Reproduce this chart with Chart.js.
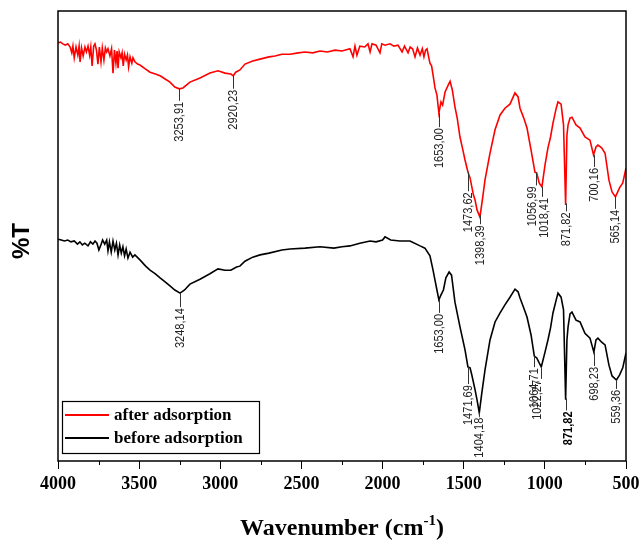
<!DOCTYPE html>
<html>
<head>
<meta charset="utf-8">
<script src="https://cdn.jsdelivr.net/npm/chart.js@4.4.0/dist/chart.umd.min.js"></script>
<style>
  html, body { margin: 0; padding: 0; background: #fff; }
  #wrap { width: 639px; height: 542px; }
</style>
</head>
<body>
<div id="wrap"><canvas id="ftir"></canvas></div>
<script>
// spectre apres adsorption (rouge)
const redWave = [4000,3985,3970,3955,3940,3925,3915,3908,3900,3889,3878,3870,3864,3855,3845,3834,3825,3815,3805,3798,3790,3780,3772,3763,3754,3745,3735,3727,3717,3708,3700,3692,3680,3670,3661,3652,3643,3636,3630,3623,3612,3605,3598,3590,3580,3572,3565,3556,3545,3538,3526,3510,3495,3460,3433,3400,3371,3340,3310,3280,3253,3230,3187,3125,3064,3014,2971,2935,2920,2905,2879,2848,2800,2755,2700,2663,2620,2570,2520,2478,2430,2386,2340,2293,2250,2201,2182,2170,2158,2140,2110,2090,2077,2065,2040,2016,2005,1985,1954,1930,1905,1880,1865,1843,1830,1815,1800,1785,1769,1755,1745,1735,1726,1715,1708,1698,1689,1677,1665,1653,1640,1630,1615,1595,1584,1570,1554,1540,1523,1505,1492,1480,1474,1461,1440,1430,1418,1400,1381,1369,1338,1307,1276,1246,1215,1184,1165,1153,1130,1110,1085,1061,1050,1035,1018,999,981,965,950,930,919,900,885,872,864,857,845,833,808,783,753,722,700,685,673,650,629,605,586,565,540,520,500];
const redT = [92.9,93.1,92.7,92.4,92.7,92.0,90.7,92.2,89.6,92.0,90.2,92.2,88.7,91.8,90.0,92.0,90.9,92.2,90.2,92.0,87.8,92.2,92.7,91.3,88.2,92.0,88.7,91.8,89.1,91.8,90.9,91.6,90.0,91.6,86.2,91.3,88.4,91.1,87.3,90.9,89.6,90.7,87.8,90.4,89.1,90.2,87.6,89.8,88.4,89.6,88.7,88.2,88.0,87.1,86.4,86.0,85.6,84.9,84.2,83.1,82.7,82.9,84.2,85.1,86.2,86.7,86.2,86.0,85.6,86.4,86.9,88.2,88.9,89.3,89.8,90.0,90.4,90.4,90.7,90.9,90.7,91.1,90.9,91.3,91.1,91.6,89.8,92.2,90.2,92.2,92.0,92.7,90.9,92.7,92.4,90.7,92.7,92.4,92.7,92.2,92.4,90.9,92.2,90.7,92.0,91.6,89.8,91.8,90.2,91.6,89.8,91.3,91.6,89.6,88.4,87.8,85.8,82.9,81.3,77.3,79.8,79.1,82.0,83.6,84.4,82.4,78.7,76.2,72.0,69.1,66.9,65.1,64.2,62.9,59.1,58.0,55.8,54.2,59.1,62.4,68.4,73.6,76.9,78.4,79.3,81.8,80.9,78.4,76.2,74.0,69.1,64.2,64.0,61.8,60.9,65.8,69.6,72.0,75.1,78.4,79.8,79.3,74.7,56.9,72.4,74.7,76.2,76.4,74.7,74.0,72.0,71.3,68.0,69.8,70.2,69.6,68.4,62.4,59.8,58.7,60.7,61.8,65.1];

// spectre avant adsorption (noir)
const blackWave = [4000,3980,3960,3940,3920,3900,3880,3865,3850,3835,3815,3800,3785,3772,3760,3748,3738,3725,3712,3700,3692,3683,3672,3661,3650,3640,3630,3620,3610,3600,3590,3580,3569,3556,3540,3526,3495,3460,3433,3400,3371,3340,3310,3280,3248,3220,3187,3125,3064,3014,2971,2935,2900,2879,2848,2800,2755,2700,2620,2570,2478,2386,2300,2250,2201,2140,2077,2040,2000,1985,1950,1893,1831,1769,1739,1708,1689,1677,1665,1653,1640,1625,1610,1590,1575,1554,1523,1492,1474,1461,1450,1430,1418,1404,1390,1369,1338,1307,1276,1246,1215,1184,1165,1153,1130,1110,1085,1065,1050,1035,1022,999,981,965,950,930,919,900,885,872,864,857,845,833,808,783,753,722,698,685,673,650,629,605,586,559,540,520,500];
const blackT = [49.3,49.1,48.9,49.1,48.7,48.9,48.2,48.7,48.0,48.4,47.8,48.7,48.2,48.9,48.4,46.9,47.8,49.1,48.2,49.1,46.7,48.7,46.4,48.9,46.9,48.4,45.8,48.0,46.2,47.6,45.6,47.1,45.1,46.4,45.3,45.8,44.7,43.3,42.4,41.6,40.7,39.8,38.9,38.0,37.3,38.0,39.3,40.4,41.6,42.7,42.4,42.4,43.1,43.3,44.4,45.3,45.8,46.2,46.9,47.1,47.3,47.6,47.3,47.6,47.8,48.4,48.9,48.7,49.1,49.8,49.1,48.9,48.9,47.8,47.3,45.6,42.4,40.2,38.0,35.8,36.9,38.0,40.7,42.0,41.3,35.3,29.8,24.7,20.9,20.7,19.1,15.8,13.6,10.7,14.7,20.2,26.9,30.9,32.9,34.7,36.4,38.2,37.6,36.2,34.0,32.0,28.0,23.3,22.9,21.8,20.9,24.2,26.9,29.6,32.9,35.8,37.3,36.4,33.6,13.6,26.9,29.8,32.7,33.1,31.3,30.9,28.4,27.3,24.2,26.9,27.3,26.4,25.8,21.3,18.9,18.0,19.1,20.7,24.0];

// pics annotes
const redPeaks = ['3253,91','2920,23','1653,00','1473,62','1398,39','1056,99','1018,41','871,82','700,16','565,14'];
const blackPeaks = ['3248,14','1653,00','1471,69','1404,18','1064,71','1022,27','871,82','698,23','559,36'];
const boldPeaks = ['871,82'];

const xTicks = [4000, 3500, 3000, 2500, 2000, 1500, 1000, 500];
const seriesNames = ['after adsorption', 'before adsorption'];

// longueur des traits de repere (px) et petit decalage du texte
const redLeader = [12,13,14,19,9,13,10,8,12,12];
const blackLeader = [14,13,17,4,11,12,12,14,9];
const redShift = [0,0,0,0,0,-4,2,0,0,0];
const blackShift = [0,0,0,0,0,-4,2,0,0];

const SERIF = "'Liberation Serif', 'Times New Roman', serif";
const SANS = "'Liberation Sans', Arial, sans-serif";

function toPoints(w, t) {
  return w.map((x, i) => ({ x, y: t[i] }));
}

function interp(w, t, x) {
  for (let i = 0; i < w.length - 1; i++) {
    if (w[i] >= x && x >= w[i + 1]) {
      const f = (w[i] - x) / (w[i] - w[i + 1]);
      return t[i] + f * (t[i + 1] - t[i]);
    }
  }
  return t[t.length - 1];
}

function drawPeaks(ctx, chart, w, t, peaks, leaders, shifts, black) {
  const xs = chart.scales.x, ys = chart.scales.y;
  peaks.forEach((p, i) => {
    const wn = parseFloat(p.replace(',', '.'));
    const px = Math.round(xs.getPixelForValue(wn)) + 0.5;
    const py = ys.getPixelForValue(interp(w, t, wn));
    const y2 = py + leaders[i];
    ctx.strokeStyle = '#333';
    ctx.lineWidth = 1;
    ctx.beginPath();
    ctx.moveTo(px, py);
    ctx.lineTo(px, y2);
    ctx.stroke();
    ctx.save();
    ctx.translate(px + shifts[i], y2 + 1);
    ctx.rotate(-Math.PI / 2);
    ctx.scale(0.85, 1);
    const bold = black && boldPeaks.includes(p);
    ctx.font = (bold ? 'bold ' : '') + '13px ' + SANS;
    ctx.fillStyle = bold ? '#000' : '#222';
    ctx.textAlign = 'right';
    ctx.textBaseline = 'middle';
    ctx.fillText(p, 0, 0);
    ctx.restore();
  });
}

const decor = {
  id: 'decor',
  afterDraw(chart) {
    const ctx = chart.ctx;
    const a = chart.chartArea;
    const xs = chart.scales.x;
    ctx.save();

    // cadre
    ctx.strokeStyle = '#000';
    ctx.lineWidth = 1.5;
    ctx.strokeRect(a.left, a.top, a.right - a.left, a.bottom - a.top);

    // graduations mineures
    ctx.lineWidth = 1;
    for (let v = 3750; v > 500; v -= 500) {
      const x = Math.round(xs.getPixelForValue(v)) + 0.5;
      ctx.beginPath();
      ctx.moveTo(x, a.bottom);
      ctx.lineTo(x, a.bottom + 4);
      ctx.stroke();
    }

    // annotations
    drawPeaks(ctx, chart, redWave, redT, redPeaks, redLeader, redShift, false);
    drawPeaks(ctx, chart, blackWave, blackT, blackPeaks, blackLeader, blackShift, true);

    // legende
    const lx = a.left + 4, ly = a.bottom - 60;
    ctx.strokeStyle = '#000';
    ctx.lineWidth = 1.2;
    ctx.strokeRect(lx + 0.5, ly + 0.5, 197, 52);
    const cols = ['#ff0000', '#000000'];
    ctx.font = 'bold 17px ' + SERIF;
    ctx.textBaseline = 'middle';
    ctx.textAlign = 'left';
    seriesNames.forEach((n, i) => {
      const yy = ly + 14 + i * 23;
      ctx.strokeStyle = cols[i];
      ctx.lineWidth = 2;
      ctx.beginPath();
      ctx.moveTo(lx + 3, yy);
      ctx.lineTo(lx + 47, yy);
      ctx.stroke();
      ctx.fillStyle = '#000';
      ctx.fillText(n, lx + 52, yy + 1);
    });

    // titre axe x
    const cx = (a.left + a.right) / 2;
    const base = 535;
    ctx.fillStyle = '#000';
    ctx.textBaseline = 'alphabetic';
    const p1 = 'Wavenumber (cm', sup = '-1', p2 = ')';
    ctx.font = 'bold 24px ' + SERIF;
    const w1 = ctx.measureText(p1).width;
    const w3 = ctx.measureText(p2).width;
    ctx.font = 'bold 15px ' + SERIF;
    const w2 = ctx.measureText(sup).width;
    let x0 = cx - (w1 + w2 + w3) / 2;
    ctx.font = 'bold 24px ' + SERIF;
    ctx.fillText(p1, x0, base);
    ctx.font = 'bold 15px ' + SERIF;
    ctx.fillText(sup, x0 + w1, base - 10);
    ctx.font = 'bold 24px ' + SERIF;
    ctx.fillText(p2, x0 + w1 + w2, base);

    // titre axe y
    ctx.save();
    ctx.translate(22, (a.top + a.bottom) / 2 + 5);
    ctx.rotate(-Math.PI / 2);
    ctx.font = 'bold 24px ' + SANS;
    ctx.textAlign = 'center';
    ctx.textBaseline = 'middle';
    ctx.fillText('%T', 0, 0);
    ctx.restore();

    ctx.restore();
  }
};

new Chart(document.getElementById('ftir'), {
  type: 'line',
  data: {
    datasets: [
      {
        label: seriesNames[0],
        data: toPoints(redWave, redT),
        borderColor: '#ff0000',
        borderWidth: 1.6,
        pointRadius: 0,
        tension: 0
      },
      {
        label: seriesNames[1],
        data: toPoints(blackWave, blackT),
        borderColor: '#000000',
        borderWidth: 1.6,
        pointRadius: 0,
        tension: 0
      }
    ]
  },
  options: {
    responsive: true,
    maintainAspectRatio: false,
    animation: false,
    events: [],
    layout: { padding: { left: 58, right: 13, top: 11, bottom: 0 } },
    plugins: { legend: { display: false }, tooltip: { enabled: false } },
    scales: {
      x: {
        type: 'linear',
        reverse: true,
        min: 500,
        max: 4000,
        afterBuildTicks: s => { s.ticks = xTicks.map(v => ({ value: v })); },
        afterFit: s => { s.height = 81; s.paddingLeft = 0; s.paddingRight = 0; },
        ticks: {
          color: '#000',
          padding: 5,
          maxRotation: 0,
          autoSkip: false,
          callback: v => String(v),
          font: { family: SERIF, size: 18, weight: 'bold' }
        },
        grid: { drawOnChartArea: false, tickLength: 8, color: '#000', lineWidth: 1 },
        border: { display: false }
      },
      y: {
        display: false,
        min: 0,
        max: 100
      }
    }
  },
  plugins: [decor]
});
</script>
</body>
</html>
